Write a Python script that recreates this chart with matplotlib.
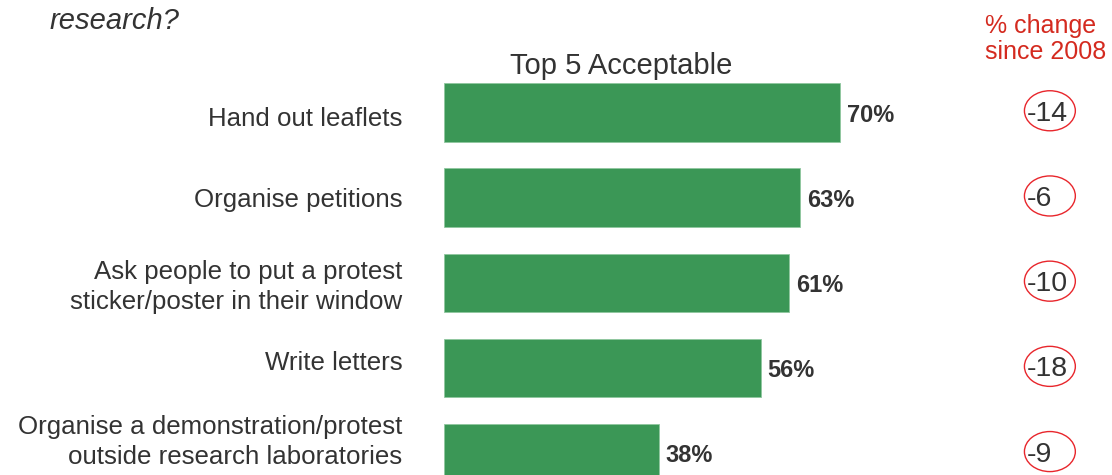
import matplotlib
matplotlib.use("Agg")
import matplotlib.pyplot as plt
from matplotlib.patches import Ellipse

plt.rcParams['font.family'] = ['Liberation Sans', 'DejaVu Sans']

actions = [
    "Hand out leaflets",
    "Organise petitions",
    "Ask people to put a protest\nsticker/poster in their window",
    "Write letters",
    "Organise a demonstration/protest\noutside research laboratories",
]
acceptable = [70, 63, 61, 56, 38]
change_since_2008 = [-14, -6, -10, -18, -9]

green = '#3b9756'
grey = '#333333'
red = '#d42a1f'

fig = plt.figure(figsize=(11.12, 4.75), dpi=100)
ax = fig.add_axes([0, 0, 1, 1])
ax.set_xlim(-78.49, 118.08)
ax.set_ylim(4.255, -1.320)
ax.axis('off')

ypos = list(range(len(actions)))
ax.barh(ypos, acceptable, height=0.685, color=green, edgecolor='#8fc79f', linewidth=0.6)

# small vertical nudges for the category labels
label_shift = [0.08, 0.03, 0.05, -0.06, -0.13]

for y, name, val, chg, dy in zip(ypos, actions, acceptable, change_since_2008, label_shift):
    ax.text(-7.4, y + dy, name, ha='right', va='center', fontsize=18.6,
            color=grey, multialignment='right', linespacing=1.32)
    ax.text(val + 1.2, y + 0.03, f"{val}%", ha='left', va='center', fontsize=17,
            fontweight='bold', color=grey)
    ax.add_patch(Ellipse((107.1, y - 0.02), 9.0, 0.47, fill=False,
                         edgecolor='#e8262c', linewidth=1.0))
    ax.text(103.0, y + 0.015, f"{chg}", ha='left', va='center', fontsize=20.5, color=grey)

ax.text(31.3, -0.55, "Top 5 Acceptable", ha='center', va='center', fontsize=21, color=grey)
ax.text(95.6, -0.86, "% change\nsince 2008", ha='left', va='center', fontsize=18,
        color=red, linespacing=1.12)
ax.text(-69.8, -1.075, "research?", ha='left', va='center', fontsize=21,
        style='italic', color=grey)

fig.savefig('out.png', dpi=100)
